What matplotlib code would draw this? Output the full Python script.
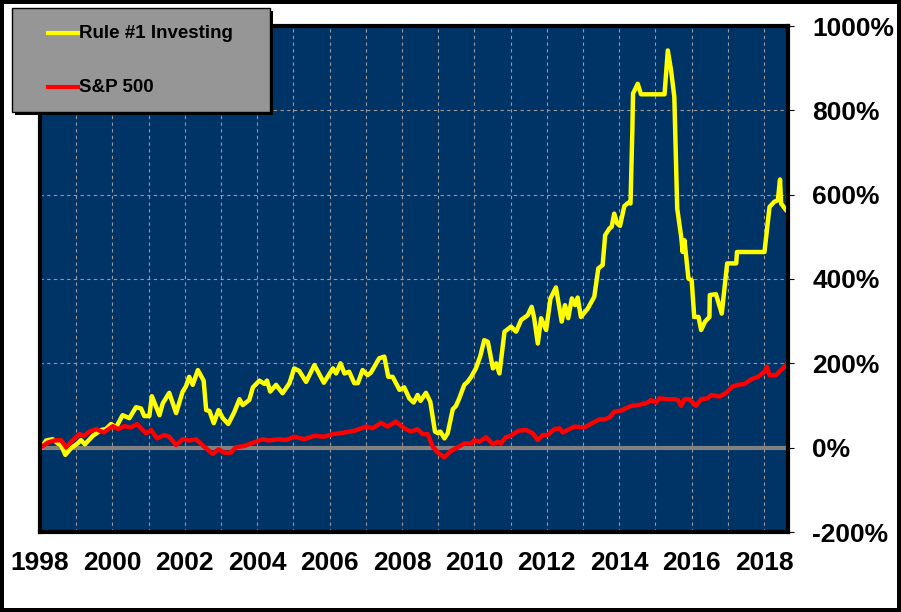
import matplotlib.pyplot as plt
from matplotlib.patches import Rectangle
from matplotlib.lines import Line2D

# values: decimal year, cumulative return in %
rule1_years = [1998.03, 1998.17, 1998.35, 1998.49, 1998.58, 1998.70, 1998.86, 1999.04, 1999.13, 1999.24,
               1999.46, 1999.69, 1999.82, 1999.96, 2000.10, 2000.28, 2000.47, 2000.65, 2000.79, 2000.88,
               2001.02, 2001.09, 2001.30, 2001.39, 2001.57, 2001.76, 2001.94, 2002.03, 2002.12, 2002.22,
               2002.36, 2002.52, 2002.59, 2002.68, 2002.80, 2002.93, 2003.05, 2003.20, 2003.37, 2003.51,
               2003.60, 2003.78, 2003.88, 2004.06, 2004.20, 2004.27, 2004.36, 2004.52, 2004.70, 2004.89,
               2005.02, 2005.16, 2005.35, 2005.58, 2005.84, 2006.09, 2006.18, 2006.30, 2006.41, 2006.54,
               2006.68, 2006.78, 2006.91, 2007.05, 2007.14, 2007.37, 2007.51, 2007.62, 2007.74, 2007.93,
               2008.06, 2008.20, 2008.32, 2008.43, 2008.51, 2008.66, 2008.78, 2008.91, 2009.00, 2009.06,
               2009.17, 2009.26, 2009.40, 2009.49, 2009.58, 2009.72, 2009.81, 2009.91, 2010.04, 2010.16,
               2010.27, 2010.37, 2010.51, 2010.60, 2010.69, 2010.83, 2011.01, 2011.15, 2011.29, 2011.47,
               2011.58, 2011.65, 2011.75, 2011.84, 2011.98, 2012.10, 2012.25, 2012.41, 2012.50, 2012.59,
               2012.69, 2012.78, 2012.85, 2012.94, 2013.13, 2013.31, 2013.42, 2013.54, 2013.61, 2013.73,
               2013.79, 2013.86, 2013.94, 2014.02, 2014.14, 2014.25, 2014.31, 2014.36, 2014.38, 2014.51,
               2014.60, 2015.25, 2015.34, 2015.43, 2015.52, 2015.60, 2015.71, 2015.75, 2015.80, 2015.91,
               2016.00, 2016.07, 2016.19, 2016.26, 2016.37, 2016.49, 2016.50, 2016.67, 2016.83, 2016.98,
               2017.23, 2017.25, 2018.01, 2018.15, 2018.28, 2018.38, 2018.44, 2018.47, 2018.61, 2018.65]
rule1_pct = [0, 17, 20, 10, 6, -17, -1, 10, 18, 8,
             28, 42, 44, 56, 48, 77, 70, 96, 93, 75,
             75, 122, 77, 105, 130, 82, 133, 145, 168, 149,
             184, 159, 89, 87, 58, 89, 70, 56, 85, 115,
             101, 113, 143, 159, 151, 159, 133, 149, 129, 153,
             188, 182, 156, 196, 154, 188, 176, 200, 176, 180,
             153, 153, 184, 172, 178, 212, 216, 168, 168, 137,
             143, 117, 107, 125, 111, 130, 109, 38, 34, 38,
             22, 34, 91, 99, 117, 149, 156, 168, 188, 217,
             255, 251, 188, 200, 176, 275, 287, 275, 303, 314,
             334, 307, 247, 307, 279, 354, 380, 299, 338, 307,
             354, 338, 356, 310, 330, 358, 425, 433, 504, 520,
             524, 555, 532, 526, 573, 581, 579, 750, 840, 863,
             838, 838, 942, 895, 832, 567, 500, 464, 492, 401,
             397, 310, 310, 279, 299, 310, 362, 364, 318, 437,
             437, 464, 464, 571, 583, 587, 636, 579, 563, 560]

sp500_years = [1998.03, 1998.21, 1998.40, 1998.58, 1998.72, 1998.86, 1999.09, 1999.22, 1999.36, 1999.55,
               1999.76, 2000.01, 2000.16, 2000.33, 2000.51, 2000.68, 2000.93, 2001.07, 2001.23, 2001.43,
               2001.57, 2001.76, 2001.94, 2002.12, 2002.31, 2002.54, 2002.77, 2002.93, 2003.09, 2003.28,
               2003.41, 2003.64, 2003.83, 2004.15, 2004.33, 2004.57, 2004.80, 2005.02, 2005.30, 2005.58,
               2005.85, 2006.09, 2006.41, 2006.68, 2007.01, 2007.19, 2007.42, 2007.60, 2007.83, 2008.06,
               2008.25, 2008.43, 2008.57, 2008.71, 2008.85, 2008.99, 2009.17, 2009.35, 2009.54, 2009.72,
               2009.91, 2010.00, 2010.14, 2010.32, 2010.51, 2010.64, 2010.73, 2010.87, 2011.01, 2011.20,
               2011.43, 2011.61, 2011.75, 2011.89, 2012.02, 2012.21, 2012.35, 2012.44, 2012.62, 2012.76,
               2013.04, 2013.27, 2013.45, 2013.59, 2013.73, 2013.86, 2014.05, 2014.33, 2014.51, 2014.74,
               2014.88, 2015.01, 2015.11, 2015.34, 2015.52, 2015.62, 2015.71, 2015.80, 2015.94, 2016.12,
               2016.26, 2016.44, 2016.54, 2016.77, 2016.95, 2017.13, 2017.27, 2017.46, 2017.64, 2017.83,
               2018.01, 2018.08, 2018.15, 2018.33, 2018.47, 2018.65]
sp500_pct = [1, 12, 17, 18, 1, 14, 32, 28, 38, 44,
             36, 51, 44, 51, 48, 56, 34, 42, 22, 30,
             26, 6, 20, 17, 20, 2, -15, -4, -12, -12,
             1, 4, 10, 20, 17, 20, 18, 26, 20, 28,
             26, 32, 36, 40, 50, 46, 59, 50, 62, 46,
             38, 44, 32, 32, 2, -12, -23, -8, 1, 10,
             10, 18, 14, 25, 8, 14, 10, 25, 28, 40,
             42, 34, 18, 30, 30, 44, 46, 36, 44, 50,
             48, 59, 67, 67, 72, 85, 88, 99, 101, 105,
             113, 107, 117, 115, 115, 113, 99, 115, 115, 99,
             115, 117, 125, 121, 130, 145, 149, 151, 162, 168,
             180, 192, 172, 172, 184, 201]

series_names = ['Rule #1 Investing', 'S&P 500']
series_colors = ['#ffff00', '#ff0000']
x_ticks = list(range(1998, 2019, 2))
y_ticks = list(range(-200, 1001, 200))

plt.rcParams['font.family'] = ['Liberation Sans', 'DejaVu Sans']
plt.rcParams['font.weight'] = 'bold'

fig = plt.figure(figsize=(9.01, 6.12), dpi=100)
fig.patch.set_edgecolor('black')
fig.patch.set_linewidth(4.5)

ax = fig.add_axes([40 / 901, 1 - 532 / 612, 748 / 901, 506 / 612])
ax.set_facecolor('#003366')

ax.axhline(0, color='#808080', lw=3, zorder=1.5)
ax.plot(rule1_years, rule1_pct, color=series_colors[0], lw=3.2, zorder=3)
ax.plot(sp500_years, sp500_pct, color=series_colors[1], lw=3.2, zorder=4)

ax.set_xlim(1998, 2018.66)
ax.set_ylim(-200, 1000)
ax.set_xticks(x_ticks)
ax.set_xticks(range(1999, 2019, 2), minor=True)
ax.set_yticks(y_ticks)
ax.set_xticklabels([str(t) for t in x_ticks])
ax.set_yticklabels([f'{t}%' for t in y_ticks])

ax.yaxis.tick_right()
ax.tick_params(axis='y', which='major', direction='out', length=4.5, width=0.8,
               pad=13, labelsize=19)
ax.tick_params(axis='x', which='both', length=0, pad=14, labelsize=19)
ax.grid(True, which='both', color='#9a9a9a', lw=0.8, linestyle=(0, (3, 3)))
ax.set_axisbelow(True)

for s in ax.spines.values():
    s.set_linewidth(3)
    s.set_color('black')
    s.set_zorder(5)

# legend box with hard shadow
tf = fig.transFigure
fig.add_artist(Rectangle((15 / 901, 1 - 115 / 612), 258 / 901, 104 / 612,
                         transform=tf, facecolor='black', edgecolor='none', zorder=10))
fig.add_artist(Rectangle((12 / 901, 1 - 112 / 612), 258 / 901, 104 / 612,
                         transform=tf, facecolor='#969696', edgecolor='black', lw=1, zorder=11))
for name, col, ypx in zip(series_names, series_colors, [33, 87]):
    yf = 1 - ypx / 612
    fig.add_artist(Line2D([48 / 901, 78 / 901], [yf, yf], transform=tf,
                          color=col, lw=3, zorder=12))
    fig.text(79 / 901, yf, name, fontsize=13.5, fontweight='bold',
             va='center', ha='left', zorder=13)

fig.savefig('out.png', dpi=100, edgecolor=fig.get_edgecolor())
